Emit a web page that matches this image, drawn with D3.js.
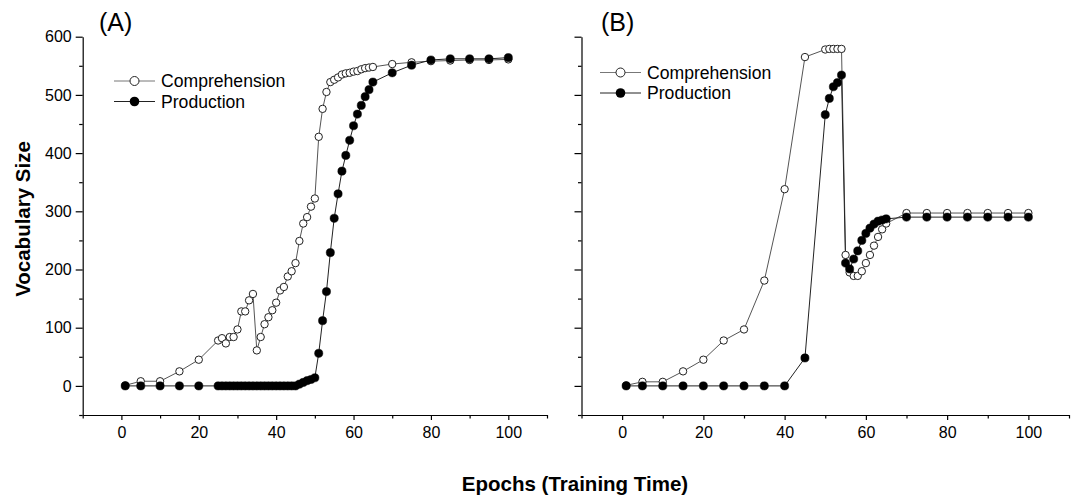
<!DOCTYPE html>
<html><head><meta charset="utf-8">
<script src="https://cdn.jsdelivr.net/npm/d3@7"></script>
<style>body{margin:0;background:#fff}svg{display:block}text{font-family:"Liberation Sans",Arial,sans-serif}</style>
</head><body>
<svg id="c" width="1074" height="502"></svg>
<script>
const epochsA = [1,5,10,15,20,25,26,27,28,29,30,31,32,33,34,35,36,37,38,39,40,41,42,43,44,45,46,47,48,49,50,51,52,53,54,55,56,57,58,59,60,61,62,63,64,65,70,75,80,85,90,95,100];
const compA = [1,8,8,25,45, 78,82,73,84,84, 97,128,128,147,158, 61,84,106,118,130, 143,164,170,188,197, 211,249,279,290,308, 322,428,476,505,522, 526,530,535,537,538, 540,541,544,546,547, 548, 553,556,558,559,560,560,561];
const prodA = [0,0,0,0,0, 0,0,0,0,0, 0,0,0,0,0, 0,0,0,0,0, 0,0,0,0,0, 0, 3,6,9,11, 14,56,112,162,229, 288,330,369,396,422, 447,467,482,497,509, 522, 538,551,560,562,562,562,564];
const epochsB = [1,5,10,15,20,25,30,35,40,45,50,51,52,53,54,55,56,57,58,59,60,61,62,63,64,65,70,75,80,85,90,95,100];
const compB = [1,7,7,25,45,78,97,181,338,565, 578,579,579,579,579, 225,195,189,189,197, 211,225,241,256,269, 279, 297,297,297,297,297,297,297];
const prodB = [0,0,0,0,0,0,0,0,0,48, 466,494,514,521,534, 211,201,218,232,250, 262,271,278,283,285, 287, 290,290,290,290,290,290,290];
const seriesNames = ["Comprehension","Production"];
const xMajor = [0,20,40,60,80,100];
const xMinor = [-10,10,30,50,70,90,110];
const yMajor = [0,100,200,300,400,500,600];
const yMinor = [-50,50,150,250,350,450,550];
const panelLabels = ["(A)","(B)"];

const svg = d3.select("#c");
const y = d3.scaleLinear().domain([-50,600]).range([415,36.7]);

const panels = [
  {x: d3.scaleLinear().domain([-10,110]).range([82.7,547]), ep: epochsA, comp: compA, prod: prodA, label: panelLabels[0], yLabels: true,
   lab:[99,31], leg:{x1:114,x2:155,cx:134.5,y1:81,y2:101.5,tx:161}},
  {x: d3.scaleLinear().domain([-10,110]).range([581.5,1069]), ep: epochsB, comp: compB, prod: prodB, label: panelLabels[1], yLabels: false,
   lab:[601,31], leg:{x1:600,x2:641,cx:620.5,y1:72.5,y2:93,tx:647}}
];

panels.forEach(p => {
  const g = svg.append("g");
  const gx = g.append("g").attr("transform","translate(0,415)");
  gx.call(d3.axisBottom(p.x).tickValues(xMinor).tickSize(3.5).tickSizeOuter(0).tickFormat(""));
  gx.append("g").call(d3.axisBottom(p.x).tickValues(xMajor).tickSize(5).tickSizeOuter(0).tickFormat(d3.format("d")))
    .call(a=>a.select(".domain").remove());
  gx.selectAll("path,line").attr("stroke","#000").attr("stroke-width",1.2);
  gx.selectAll("text").attr("font-size",16).attr("fill","#000").attr("y",12).attr("dy","0.71em");
  const x0 = p.x.range()[0];
  const gy = g.append("g").attr("transform",`translate(${x0},0)`);
  gy.call(d3.axisLeft(y).tickValues(yMinor).tickSize(3.5).tickSizeOuter(0).tickFormat(""));
  gy.append("g").call(d3.axisLeft(y).tickValues(yMajor).tickSize(7).tickSizeOuter(0).tickFormat(p.yLabels ? d3.format("d") : ""))
    .call(a=>a.select(".domain").remove());
  gy.selectAll("path,line").attr("stroke","#000").attr("stroke-width",1.2);
  gy.selectAll("text").attr("font-size",16).attr("fill","#000").attr("x",-11);

  const line = d3.line().x(d=>p.x(d[0])).y(d=>y(d[1]));
  const cData = p.ep.map((e,i)=>[e,p.comp[i]]);
  const pData = p.ep.map((e,i)=>[e,p.prod[i]]);
  g.append("path").datum(cData).attr("d",line).attr("fill","none").attr("stroke","#555").attr("stroke-width",1);
  g.append("path").datum(pData).attr("d",line).attr("fill","none").attr("stroke","#222").attr("stroke-width",1);
  g.selectAll(".cc").data(cData).join("circle").attr("cx",d=>p.x(d[0])).attr("cy",d=>y(d[1])).attr("r",3.7)
    .attr("fill","#fff").attr("stroke","#222").attr("stroke-width",1);
  g.selectAll(".pc").data(pData).join("circle").attr("cx",d=>p.x(d[0])).attr("cy",d=>y(d[1])).attr("r",4.1)
    .attr("fill","#000").attr("stroke","#000").attr("stroke-width",0.5);

  const L = p.leg;
  g.append("line").attr("x1",L.x1).attr("x2",L.x2).attr("y1",L.y1).attr("y2",L.y1).attr("stroke","#777").attr("stroke-width",1);
  g.append("circle").attr("cx",L.cx).attr("cy",L.y1).attr("r",4.5).attr("fill","#fff").attr("stroke","#222").attr("stroke-width",1);
  g.append("text").attr("x",L.tx).attr("y",L.y1).attr("dy","0.35em").attr("font-size",17.6).text(seriesNames[0]);
  g.append("line").attr("x1",L.x1).attr("x2",L.x2).attr("y1",L.y2).attr("y2",L.y2).attr("stroke","#222").attr("stroke-width",1);
  g.append("circle").attr("cx",L.cx).attr("cy",L.y2).attr("r",4.8).attr("fill","#000");
  g.append("text").attr("x",L.tx).attr("y",L.y2).attr("dy","0.35em").attr("font-size",17.6).text(seriesNames[1]);

  g.append("text").attr("x",p.lab[0]).attr("y",p.lab[1]).attr("font-size",25).text(p.label);
});

svg.append("text").attr("transform","translate(30,219) rotate(-90)").attr("text-anchor","middle")
  .attr("font-size",20.5).attr("font-weight","bold").text("Vocabulary Size");
svg.append("text").attr("x",575).attr("y",491).attr("text-anchor","middle")
  .attr("font-size",20.5).attr("font-weight","bold").text("Epochs (Training Time)");
</script>
</body></html>
